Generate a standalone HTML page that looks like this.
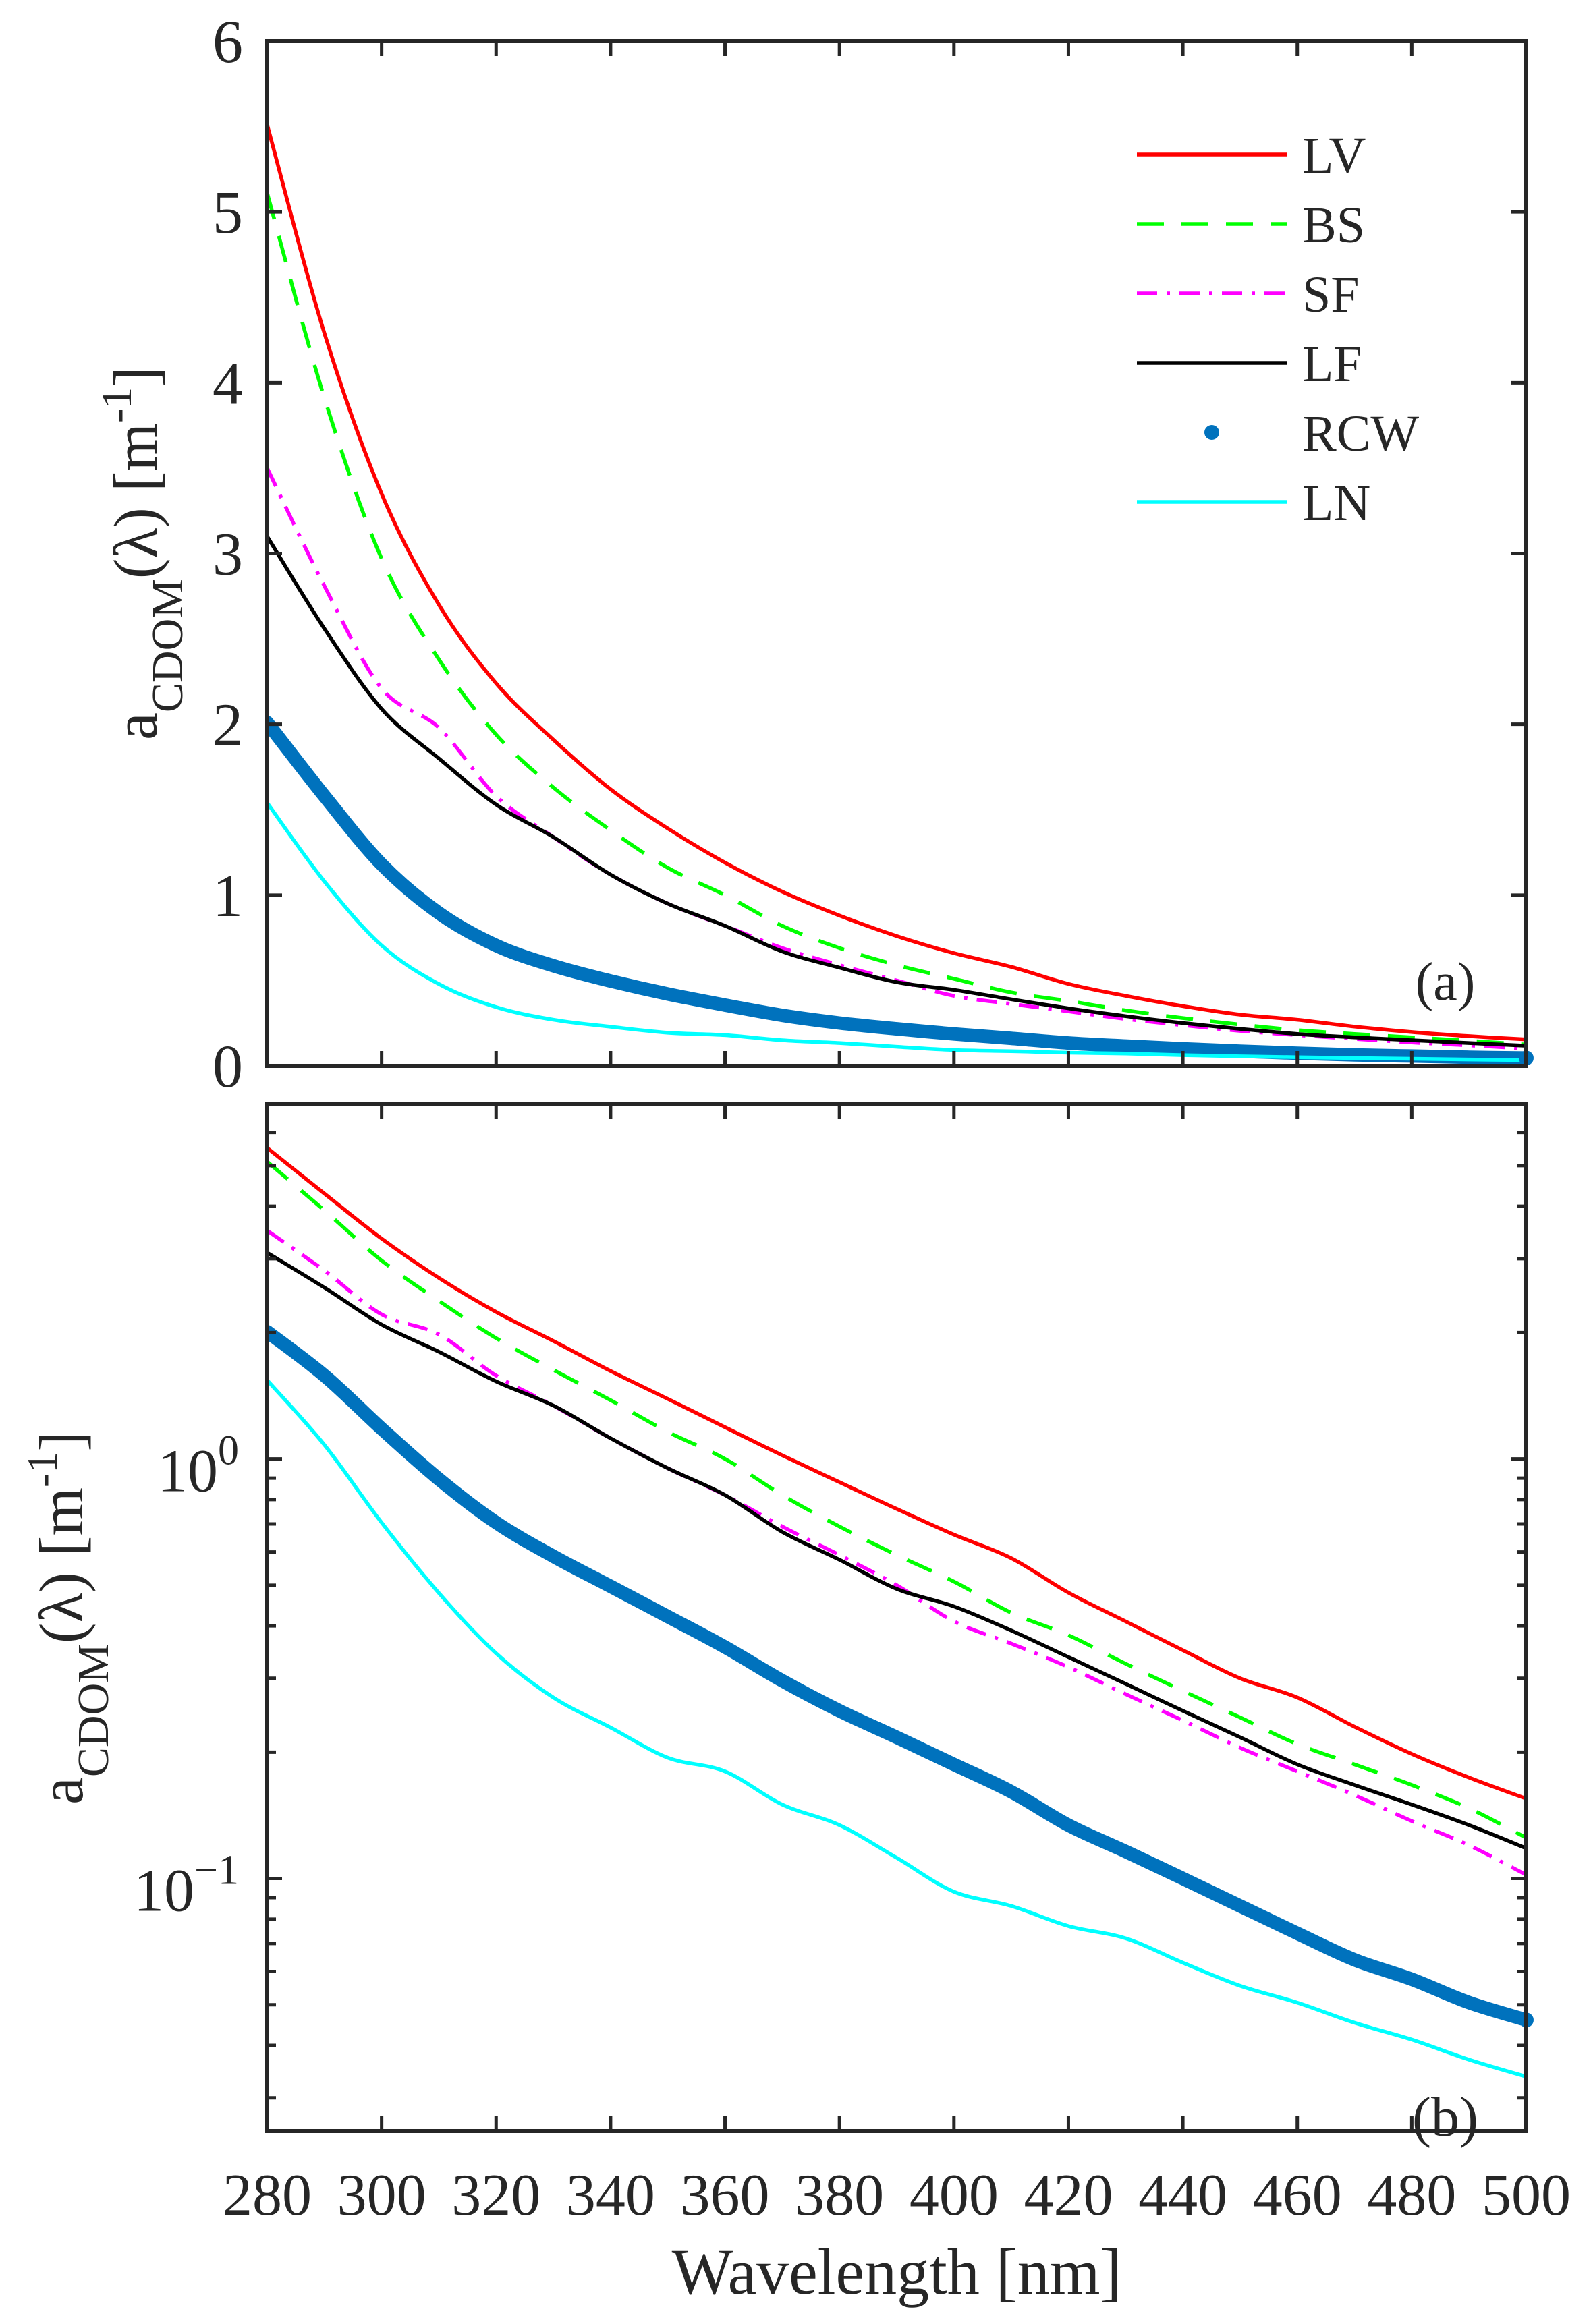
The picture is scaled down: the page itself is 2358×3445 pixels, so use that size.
<!DOCTYPE html>
<html><head><meta charset="utf-8"><style>
html,body{margin:0;padding:0;background:#fff}
svg{display:block}
text{font-family:"Liberation Serif","DejaVu Serif",serif;fill:#262626}
</style></head><body>
<svg id="chart" width="2358" height="3445" viewBox="0 0 2358 3445" xmlns="http://www.w3.org/2000/svg">
<defs>
<clipPath id="clipA"><rect x="396" y="61" width="1866" height="1519"/></clipPath>
<clipPath id="clipB"><rect x="396" y="1637" width="1866" height="1522"/></clipPath>
</defs>
<g id="panelA"></g>
<g id="panelB"></g>
<g id="labels">
<text transform="translate(232,820) rotate(-90)" text-anchor="middle" font-size="92">a<tspan dy="38" font-size="66">CDOM</tspan><tspan dy="-38">(λ) [m</tspan><tspan dy="-38" font-size="64">-1</tspan><tspan dy="38">]</tspan></text>
<text transform="translate(122,2398) rotate(-90)" text-anchor="middle" font-size="92">a<tspan dy="38" font-size="66">CDOM</tspan><tspan dy="-38">(λ) [m</tspan><tspan dy="-38" font-size="64">-1</tspan><tspan dy="38">]</tspan></text>
<text x="1329" y="3400" text-anchor="middle" font-size="96">Wavelength [nm]</text>
<text x="2142" y="1482" text-anchor="middle" font-size="80">(a)</text>
<text x="2142" y="3166" text-anchor="middle" font-size="84">(b)</text>
</g>
</svg>
<script>
const wavelengths = [280,290,300,310,320,330,340,350,360,370,380,390,400,410,420,430,440,450,460,470,480,490,500];
const seriesLV  = [5.51,4.29,3.35,2.70,2.24,1.91,1.62,1.39,1.19,1.02,0.88,0.76,0.66,0.58,0.48,0.41,0.35,0.30,0.27,0.23,0.198,0.174,0.155];
const seriesBS  = [5.11,3.91,2.97,2.38,1.94,1.63,1.38,1.16,1.00,0.82,0.69,0.59,0.51,0.43,0.38,0.325,0.28,0.242,0.209,0.187,0.167,0.147,0.125];
const seriesSF  = [3.50,2.81,2.21,1.98,1.58,1.34,1.12,0.95,0.82,0.69,0.59,0.50,0.41,0.363,0.319,0.275,0.238,0.205,0.180,0.158,0.137,0.120,0.102];
const seriesLF  = [3.10,2.56,2.09,1.80,1.53,1.34,1.12,0.95,0.82,0.67,0.575,0.49,0.445,0.39,0.337,0.291,0.251,0.217,0.187,0.167,0.150,0.134,0.118];
const seriesRCW = [2.01,1.58,1.18,0.895,0.705,0.586,0.497,0.421,0.356,0.296,0.251,0.217,0.187,0.161,0.134,0.116,0.100,0.086,0.074,0.064,0.0575,0.0506,0.046];
const seriesLN  = [1.54,1.08,0.705,0.479,0.344,0.270,0.229,0.194,0.180,0.150,0.134,0.112,0.093,0.086,0.077,0.072,0.063,0.0555,0.0506,0.0453,0.0413,0.037,0.0337];
const xTickLabels = ["280","300","320","340","360","380","400","420","440","460","480","500"];
const yTickLabelsA = ["0","1","2","3","4","5","6"];
const legendNames = ["LV","BS","SF","LF","RCW","LN"];

const NS="http://www.w3.org/2000/svg";
const L=396,R=2262,TA=61,BA=1580,TB=1637,BB=3159;
const X0=280,X1=500,YA0=0,YA1=6,LB0=Math.log10(0.025),LB1=Math.log10(7);
function xs(v){return L+(v-X0)/(X1-X0)*(R-L);}
function ya(v){return BA-(v-YA0)/(YA1-YA0)*(BA-TA);}
function yb(v){return BB-(Math.log10(v)-LB0)/(LB1-LB0)*(BB-TB);}
function mk(tag,attrs,parent){const e=document.createElementNS(NS,tag);for(const k in attrs)e.setAttribute(k,attrs[k]);parent.appendChild(e);return e;}
function smoothPath(P){
  let d="M"+P[0][0].toFixed(1)+","+P[0][1].toFixed(1);
  for(let i=0;i<P.length-1;i++){
    const p0=P[i-1]||P[i],p1=P[i],p2=P[i+1],p3=P[i+2]||P[i+1];
    const c1=[p1[0]+(p2[0]-p0[0])/6,p1[1]+(p2[1]-p0[1])/6];
    const c2=[p2[0]-(p3[0]-p1[0])/6,p2[1]-(p3[1]-p1[1])/6];
    d+=" C"+c1[0].toFixed(1)+","+c1[1].toFixed(1)+" "+c2[0].toFixed(1)+","+c2[1].toFixed(1)+" "+p2[0].toFixed(1)+","+p2[1].toFixed(1);
  }
  return d;
}
const AX="#262626";
const styles=[
 {name:"LV",color:"#ff0000",w:5.5,dash:null,data:seriesLV},
 {name:"BS",color:"#00ff00",w:5.5,dash:"40 26",data:seriesBS},
 {name:"SF",color:"#ff00ff",w:5.5,dash:"30 14 5 14",data:seriesSF},
 {name:"LF",color:"#000000",w:5.5,dash:null,data:seriesLF},
 {name:"RCW",color:"#0072bd",w:20,dash:null,data:seriesRCW},
 {name:"LN",color:"#00ffff",w:5.5,dash:null,data:seriesLN}
];
function drawSeries(g,yf,clip,suffix){
  const sg=mk("g",{"clip-path":"url(#"+clip+")"},g);
  styles.forEach(s=>{
    const P=wavelengths.map((w,i)=>[xs(w),yf(s.data[i])]);
    const p=mk("path",{d:smoothPath(P),fill:"none",stroke:s.color,"stroke-width":s.w,"stroke-linejoin":"round","stroke-linecap":s.name==="RCW"?"round":"butt"},sg);
    if(s.dash)p.setAttribute("stroke-dasharray",s.dash);
    
    
  });
  const last=seriesRCW.length-1;
  const c=mk("circle",{cx:xs(wavelengths[last]),cy:yf(seriesRCW[last]),r:11,fill:"#0072bd"},g);
  
  
}
function frame(g,T,B,suffix){
  const r=mk("rect",{x:L,y:T,width:R-L,height:B-T,fill:"none",stroke:AX,"stroke-width":6},g);
  
  
  xTickLabels.forEach(t=>{
    const x=xs(+t);
    const tk=mk("path",{d:`M${x},${B}v-22M${x},${T}v22`,stroke:AX,"stroke-width":5},g);
    
    
  });
}
const gA=document.getElementById("panelA");
drawSeries(gA,ya,"clipA","a");
frame(gA,TA,BA,"a");
yTickLabelsA.forEach(t=>{
  const y=ya(+t);
  const tk=mk("path",{d:`M${L},${y}h22M${R},${y}h-22`,stroke:AX,"stroke-width":5},gA);
  
  
  const tx=mk("text",{x:360,y:y+31,"text-anchor":"end","font-size":90},gA);
  tx.textContent=t;
  
  
});
const lg=mk("g",{},gA);


legendNames.forEach((n,i)=>{
  const s=styles[i];const y=229+i*103;
  if(n==="RCW"){
    const c=mk("circle",{cx:1796,cy:y,r:11,fill:s.color},lg);
    
    
  } else {
    const ln=mk("line",{x1:1685,y1:y,x2:1908,y2:y,stroke:s.color,"stroke-width":5.5},lg);
    if(s.dash)ln.setAttribute("stroke-dasharray",s.dash);
    
    
  }
  const tx=mk("text",{x:1930,y:y+27,"font-size":76},lg);
  tx.textContent=n;
  
  
});
const gB=document.getElementById("panelB");
drawSeries(gB,yb,"clipB","b");
frame(gB,TB,BB,"b");
[0.01,0.1,1].forEach(dec=>{
  for(let m=1;m<=9;m++){
    const v=dec*m;
    if(v<0.025||v>7)continue;
    const y=yb(v);const len=(m===1)?22:13;
    const tk=mk("path",{d:`M${L},${y}h${len}M${R},${y}h-${len}`,stroke:AX,"stroke-width":5},gB);
    
    
  }
});
[[1,"0"],[0.1,"-1"]].forEach(([v,e])=>{
  const y=yb(v);
  const tx=mk("text",{x:354,y:y+48,"text-anchor":"end","font-size":90},gB);
  tx.innerHTML='10<tspan dy="-40" font-size="62">'+(e==="-1"?"−1":e)+'</tspan>';
  
  
});
xTickLabels.forEach(t=>{
  const tx=mk("text",{x:xs(+t),y:3283,"text-anchor":"middle","font-size":88},gB);
  tx.textContent=t;
  
  
});
</script>
</body></html>
